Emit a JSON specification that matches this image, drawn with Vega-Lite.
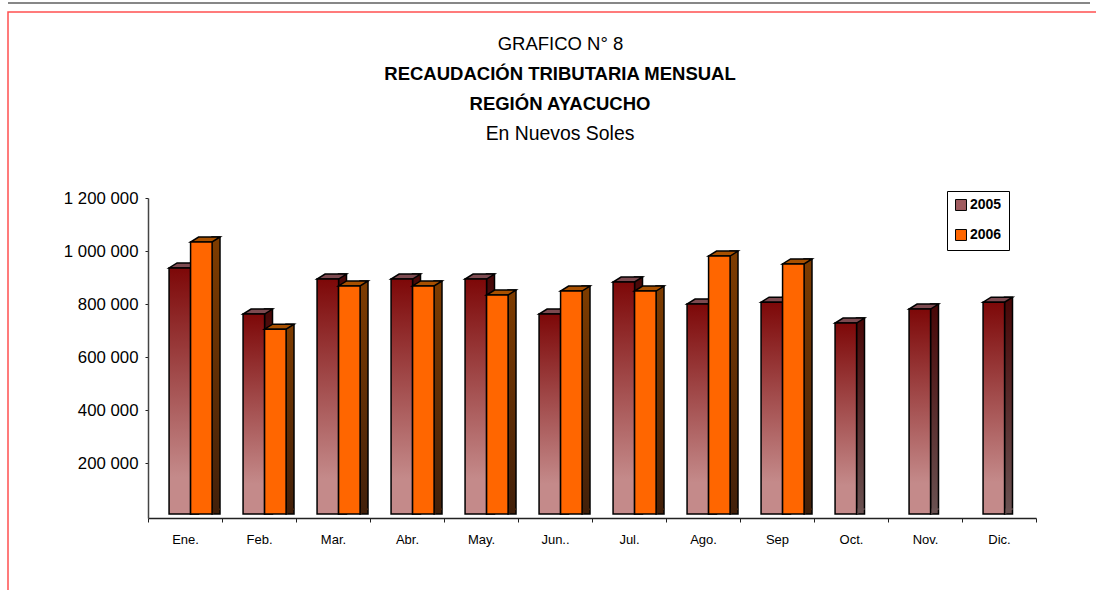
{"$schema":"https://vega.github.io/schema/vega-lite/v6.json","width":1090,"height":580,"autosize":{"type":"none"},"padding":{"left":8,"top":12,"right":-2,"bottom":-2},"background":"white","config":{"view":{"stroke":"#ff5050","strokeWidth":1.5},"font":"Liberation Sans"},
"title":{"text":["RECAUDACIÓN TRIBUTARIA MENSUAL","REGIÓN AYACUCHO"],"subtitle":"En Nuevos Soles","anchor":"middle","frame":"group","dx":7,"offset":-141,"font":"Liberation Sans","fontSize":18.5,"fontWeight":"bold","color":"black","lineHeight":30,"subtitleFont":"Liberation Sans","subtitleFontSize":19.4,"subtitleFontWeight":"normal","subtitleColor":"black","subtitlePadding":12},
"data":{"values":[
{"month":"Ene.","series":"2005","value":936000},{"month":"Feb.","series":"2005","value":762000},{"month":"Mar.","series":"2005","value":894000},{"month":"Abr.","series":"2005","value":894000},{"month":"May.","series":"2005","value":894000},{"month":"Jun..","series":"2005","value":762000},{"month":"Jul.","series":"2005","value":883000},{"month":"Ago.","series":"2005","value":800000},{"month":"Sep","series":"2005","value":807000},{"month":"Oct.","series":"2005","value":728000},{"month":"Nov.","series":"2005","value":781000},{"month":"Dic.","series":"2005","value":807000},
{"month":"Ene.","series":"2006","value":1034000},{"month":"Feb.","series":"2006","value":705000},{"month":"Mar.","series":"2006","value":868000},{"month":"Abr.","series":"2006","value":868000},{"month":"May.","series":"2006","value":834000},{"month":"Jun..","series":"2006","value":849000},{"month":"Jul.","series":"2006","value":849000},{"month":"Ago.","series":"2006","value":981000},{"month":"Sep","series":"2006","value":951000}
]},
"encoding":{
"x":{"field":"month","type":"nominal","sort":null,"scale":{"domain":["Ene.","Feb.","Mar.","Abr.","May.","Jun..","Jul.","Ago.","Sep","Oct.","Nov.","Dic."],"range":[140,1028],"paddingInner":0,"paddingOuter":0},"axis":{"title":null,"labelAngle":0,"offset":-74,"tickBand":"extent","tickSize":4,"tickColor":"#222","domainColor":"#222","domainWidth":1.5,"labelFont":"Liberation Sans","labelFontSize":13,"labelColor":"black","labelPadding":11}},
"xOffset":{"field":"series","type":"nominal","scale":{"domain":["2005","2006"],"paddingInner":0,"paddingOuter":0.72,"align":0.68}},
"y":{"field":"value","type":"quantitative","scale":{"domain":[-7547,1200000],"range":[506,186],"nice":false,"zero":false},"axis":{"title":"GRAFICO N° 8","titleAngle":0,"titleX":412,"titleY":37,"titleAlign":"center","titleBaseline":"alphabetic","titleFont":"Liberation Sans","titleFontSize":18.5,"titleFontWeight":"normal","titleColor":"black","values":[200000,400000,600000,800000,1000000,1200000],"labelExpr":"replace(format(datum.value,','),/,/g,' ')","offset":-140,"grid":false,"tickSize":3,"tickColor":"#222","domainColor":"#444","domainWidth":1.5,"labelFont":"Liberation Sans","labelFontSize":16.8,"labelColor":"black","labelPadding":7}}
},
"layer":[
{"mark":{"type":"rule","color":"#888","strokeWidth":1,"xOffset":-8},"encoding":{"x":null,"xOffset":null,"y":{"datum":1935735,"type":"quantitative"}}},
{"transform":[{"filter":"datum.series=='2005'"}],"mark":{"type":"bar","width":8,"xOffset":9.5,"yOffset":-5,"stroke":"black","strokeWidth":1.5,"fill":{"gradient":"linear","x1":0,"y1":0,"x2":0,"y2":1,"stops":[{"offset":0,"color":"#480606"},{"offset":1,"color":"#6a5252"}]}},"encoding":{"xOffset":null,"y2":{"datum":7547}}},
{"transform":[{"filter":"datum.series=='2005'"}],"mark":{"type":"point","filled":true,"opacity":1,"size":4,"shape":"M10.75 0L18.75 -5L10.75 -5Z","fill":"#6a5252","stroke":"#6a5252","strokeWidth":1},"encoding":{"y":{"datum":7547,"type":"quantitative"}}},
{"transform":[{"filter":"datum.series=='2005'"}],"mark":{"type":"point","filled":true,"opacity":1,"size":4,"shape":"M-10.75 0L10.75 0L18.75 -5L-2.75 -5Z","fill":"#7d4a50","stroke":"black","strokeWidth":1.5}},
{"transform":[{"filter":"datum.series=='2005'"}],"mark":{"type":"bar","stroke":"black","strokeWidth":1.5,"fill":{"gradient":"linear","x1":0,"y1":0,"x2":0,"y2":1,"stops":[{"offset":0,"color":"#7d0808"},{"offset":0.85,"color":"#c48a8a"},{"offset":1,"color":"#c48a8a"}]}},"encoding":{"y2":{"datum":7547}}},
{"transform":[{"filter":"datum.series=='2006'"}],"mark":{"type":"bar","width":8,"xOffset":31,"yOffset":-5,"stroke":"black","strokeWidth":1.5,"fill":{"gradient":"linear","x1":0,"y1":0,"x2":0,"y2":1,"stops":[{"offset":0,"color":"#7e3c00"},{"offset":1,"color":"#42200a"}]}},"encoding":{"xOffset":null,"y2":{"datum":7547}}},
{"transform":[{"filter":"datum.series=='2006'"}],"mark":{"type":"point","filled":true,"opacity":1,"size":4,"shape":"M10.75 0L18.75 -5L10.75 -5Z","fill":"#42200a","stroke":"#42200a","strokeWidth":1},"encoding":{"y":{"datum":7547,"type":"quantitative"}}},
{"transform":[{"filter":"datum.series=='2006'"}],"mark":{"type":"point","filled":true,"opacity":1,"size":4,"shape":"M-10.75 0L10.75 0L18.75 -5L-2.75 -5Z","fill":"#a85000","stroke":"black","strokeWidth":1.5}},
{"transform":[{"filter":"datum.series=='2006'"}],"mark":{"type":"bar","stroke":"black","strokeWidth":1.5},"encoding":{"y2":{"datum":7547},"fill":{"field":"series","type":"nominal","scale":{"domain":["2005","2006"],"range":["#a05c60","#ff6600"]},"legend":{"title":null,"orient":"none","legendX":939,"legendY":179,"fillColor":"white","strokeColor":"black","padding":7,"symbolType":"square","symbolSize":120,"symbolStrokeColor":"black","symbolStrokeWidth":1,"labelFont":"Liberation Sans","labelFontSize":14,"labelFontWeight":"bold","labelColor":"black","rowPadding":14,"labelOffset":2,"labelLimit":60}}}}
]}
